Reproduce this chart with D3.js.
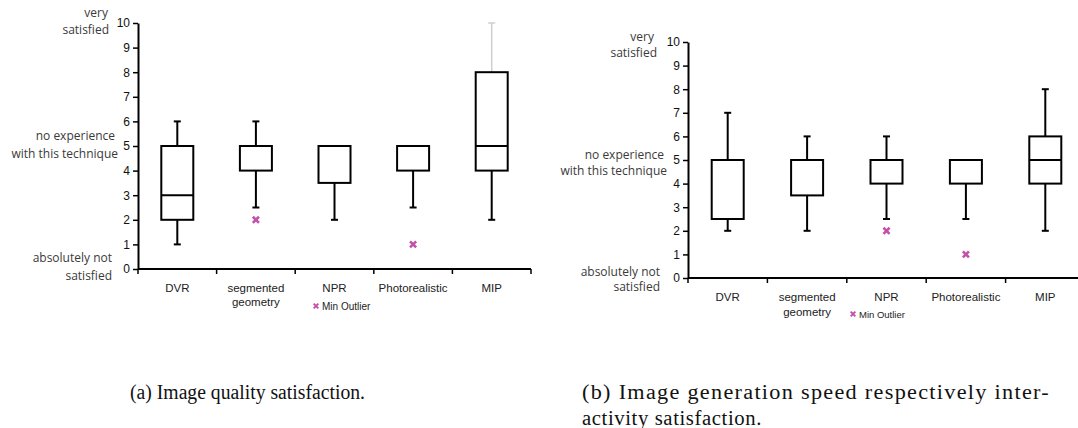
<!DOCTYPE html>
<html><head><meta charset="utf-8">
<script src="https://cdn.jsdelivr.net/npm/d3@7"></script>
<style>body{margin:0;background:#fff}svg{display:block}</style>
</head><body>
<svg id="c" width="1078" height="428"></svg>
<script>
const categories = ["DVR", "segmented\ngeometry", "NPR", "Photorealistic", "MIP"];
const yTicks = [0,1,2,3,4,5,6,7,8,9,10];
// [min, q1, median, q3, max]
const qualityStats = [[1,2,3,5,6],[2.5,4,5,5,6],[2,3.5,5,5,5],[2.5,4,5,5,5],[2,4,5,8,10]];
const qualityOutliers = [null, 2, null, 1, null];
const speedStats = [[2,2.5,5,5,7],[2,3.5,5,5,6],[2.5,4,5,5,6],[2.5,4,5,5,5],[2,4,5,6,8]];
const speedOutliers = [null, null, 2, 1, null];
const annotations = [["very","satisfied"],["no experience","with this technique"],["absolutely not","satisfied"]];
const legendLabel = "Min Outlier";
const captions = [["(a) Image quality satisfaction."],["(b) Image generation speed respectively inter-","activity satisfaction."]];

const svg = d3.select("#c");
const pink = "#c451a9";

function panel(cfg){
  const g = svg.append("g");
  const x = d3.scaleBand().domain(categories).range(cfg.xr);
  const y = d3.scaleLinear().domain([0,10]).range(cfg.yr);
  // y axis
  const ya = g.append("g").attr("transform",`translate(${cfg.xr[0]},0)`)
    .call(d3.axisLeft(y).tickValues(yTicks).tickSize(5).tickSizeOuter(0).tickPadding(3));
  ya.select(".domain").attr("stroke","#000").attr("stroke-width",2);
  ya.selectAll(".tick line").attr("stroke","#000").attr("stroke-width",1.5);
  ya.selectAll(".tick text").attr("font-family","Liberation Sans, Arial, sans-serif").attr("font-size",12).attr("fill","#111");
  // x axis
  const xa = g.append("g").attr("transform",`translate(0,${cfg.yr[0]})`);
  xa.append("line").attr("x1",cfg.xr[0]).attr("x2",cfg.xr[1]).attr("stroke","#000").attr("stroke-width",2);
  const bounds = categories.map(c=>x(c)).concat([cfg.xr[1]]);
  xa.selectAll("line.t").data(bounds).join("line").attr("class","t")
    .attr("x1",d=>d).attr("x2",d=>d).attr("y1",0).attr("y2",5).attr("stroke","#000").attr("stroke-width",1.5);
  const lab = xa.selectAll("text.cat").data(categories).join("text").attr("class","cat")
    .attr("x",d=>x(d)+x.bandwidth()/2).attr("y",cfg.catDy)
    .attr("text-anchor","middle").attr("font-family","Liberation Sans, Arial, sans-serif")
    .attr("font-size",11.5).attr("fill","#222");
  lab.each(function(d){
    const lines = d.split("\n");
    d3.select(this).selectAll("tspan").data(lines).join("tspan")
      .attr("x",x(d)+x.bandwidth()/2).attr("dy",(l,i)=>i?cfg.lineH:0).text(l=>l);
  });
  // boxes
  const bw = 32, cw = 7;
  cfg.stats.forEach((s,i)=>{
    const cx = x(categories[i])+x.bandwidth()/2;
    const [mn,q1,md,q3,mx] = s;
    const bg = g.append("g");
    if (mx>q3){
      const col = cfg.grayTop===i ? "#cfcfcf" : "#000";
      const sw = cfg.grayTop===i ? 1.5 : 2;
      bg.append("line").attr("x1",cx).attr("x2",cx).attr("y1",y(q3)).attr("y2",y(mx)).attr("stroke",col).attr("stroke-width",sw);
      bg.append("line").attr("x1",cx-cw/2).attr("x2",cx+cw/2).attr("y1",y(mx)).attr("y2",y(mx)).attr("stroke",col).attr("stroke-width",sw);
    }
    if (mn<q1){
      bg.append("line").attr("x1",cx).attr("x2",cx).attr("y1",y(q1)).attr("y2",y(mn)).attr("stroke","#000").attr("stroke-width",2);
      bg.append("line").attr("x1",cx-cw/2).attr("x2",cx+cw/2).attr("y1",y(mn)).attr("y2",y(mn)).attr("stroke","#000").attr("stroke-width",2);
    }
    bg.append("rect").attr("x",cx-bw/2).attr("width",bw).attr("y",y(q3)).attr("height",y(q1)-y(q3))
      .attr("fill","#fff").attr("stroke","#000").attr("stroke-width",2);
    bg.append("line").attr("x1",cx-bw/2).attr("x2",cx+bw/2).attr("y1",y(md)).attr("y2",y(md)).attr("stroke","#000").attr("stroke-width",2);
    const o = cfg.outliers[i];
    if (o!=null){
      bg.append("path").attr("d",d3.symbol(d3.symbolX,26)()).attr("transform",`translate(${cx},${y(o)})`)
        .attr("stroke",pink).attr("stroke-width",2.6).attr("fill","none");
    }
  });
  // annotations
  const at = [10,5,0];
  annotations.forEach((a,k)=>{
    const p = cfg.ann[k];
    a.forEach((t,j)=>{
      g.append("text").attr("x",p.r[j]).attr("y",y(at[k])+p.dy[j]).attr("text-anchor","end")
        .attr("font-family","Open Sans, sans-serif").attr("font-size",12).attr("fill","#3a3a3a").text(t);
    });
  });
  // legend
  g.append("path").attr("d",d3.symbol(d3.symbolX,16)()).attr("transform",`translate(${cfg.leg[0]},${cfg.leg[1]})`)
    .attr("stroke",pink).attr("stroke-width",2).attr("fill","none");
  g.append("text").attr("x",cfg.leg[0]+6).attr("y",cfg.leg[1]+3.5).attr("font-family","Liberation Sans, Arial, sans-serif")
    .attr("font-size",cfg.legFs).attr("fill","#222").text(legendLabel);
  // caption
  cfg.cap.forEach((t,j)=>{
    svg.append("text").attr("x",cfg.capX).attr("y",399+j*26).attr("font-family","Liberation Serif, DejaVu Serif, serif")
      .attr("font-size",20.5).attr("fill","#111").attr("letter-spacing",cfg.capLs[j]).text(t)
      .attr("textLength", cfg.capW[j]).attr("lengthAdjust","spacingAndGlyphs");
  });
}

panel({xr:[138,531], yr:[269,23], stats:qualityStats, outliers:qualityOutliers, grayTop:4,
  catDy:23, lineH:13.5,
  ann:[{r:[108,109],dy:[-6,11]},{r:[115,118],dy:[-6,12]},{r:[112,112],dy:[-7,11]}],
  leg:[316,306], legFs:10, cap:captions[0], capX:130, capW:[235], capLs:[0]});
panel({xr:[688,1085], yr:[278,42], stats:speedStats, outliers:speedOutliers, grayTop:-1,
  catDy:23, lineH:15,
  ann:[{r:[654,657],dy:[-1,15]},{r:[664,667],dy:[-1,15]},{r:[660,660],dy:[-2,13]}],
  leg:[853,314], legFs:9.5, cap:captions[1], capX:582, capW:[468,180], capLs:[1.2,0.6]});
</script>
</body></html>
